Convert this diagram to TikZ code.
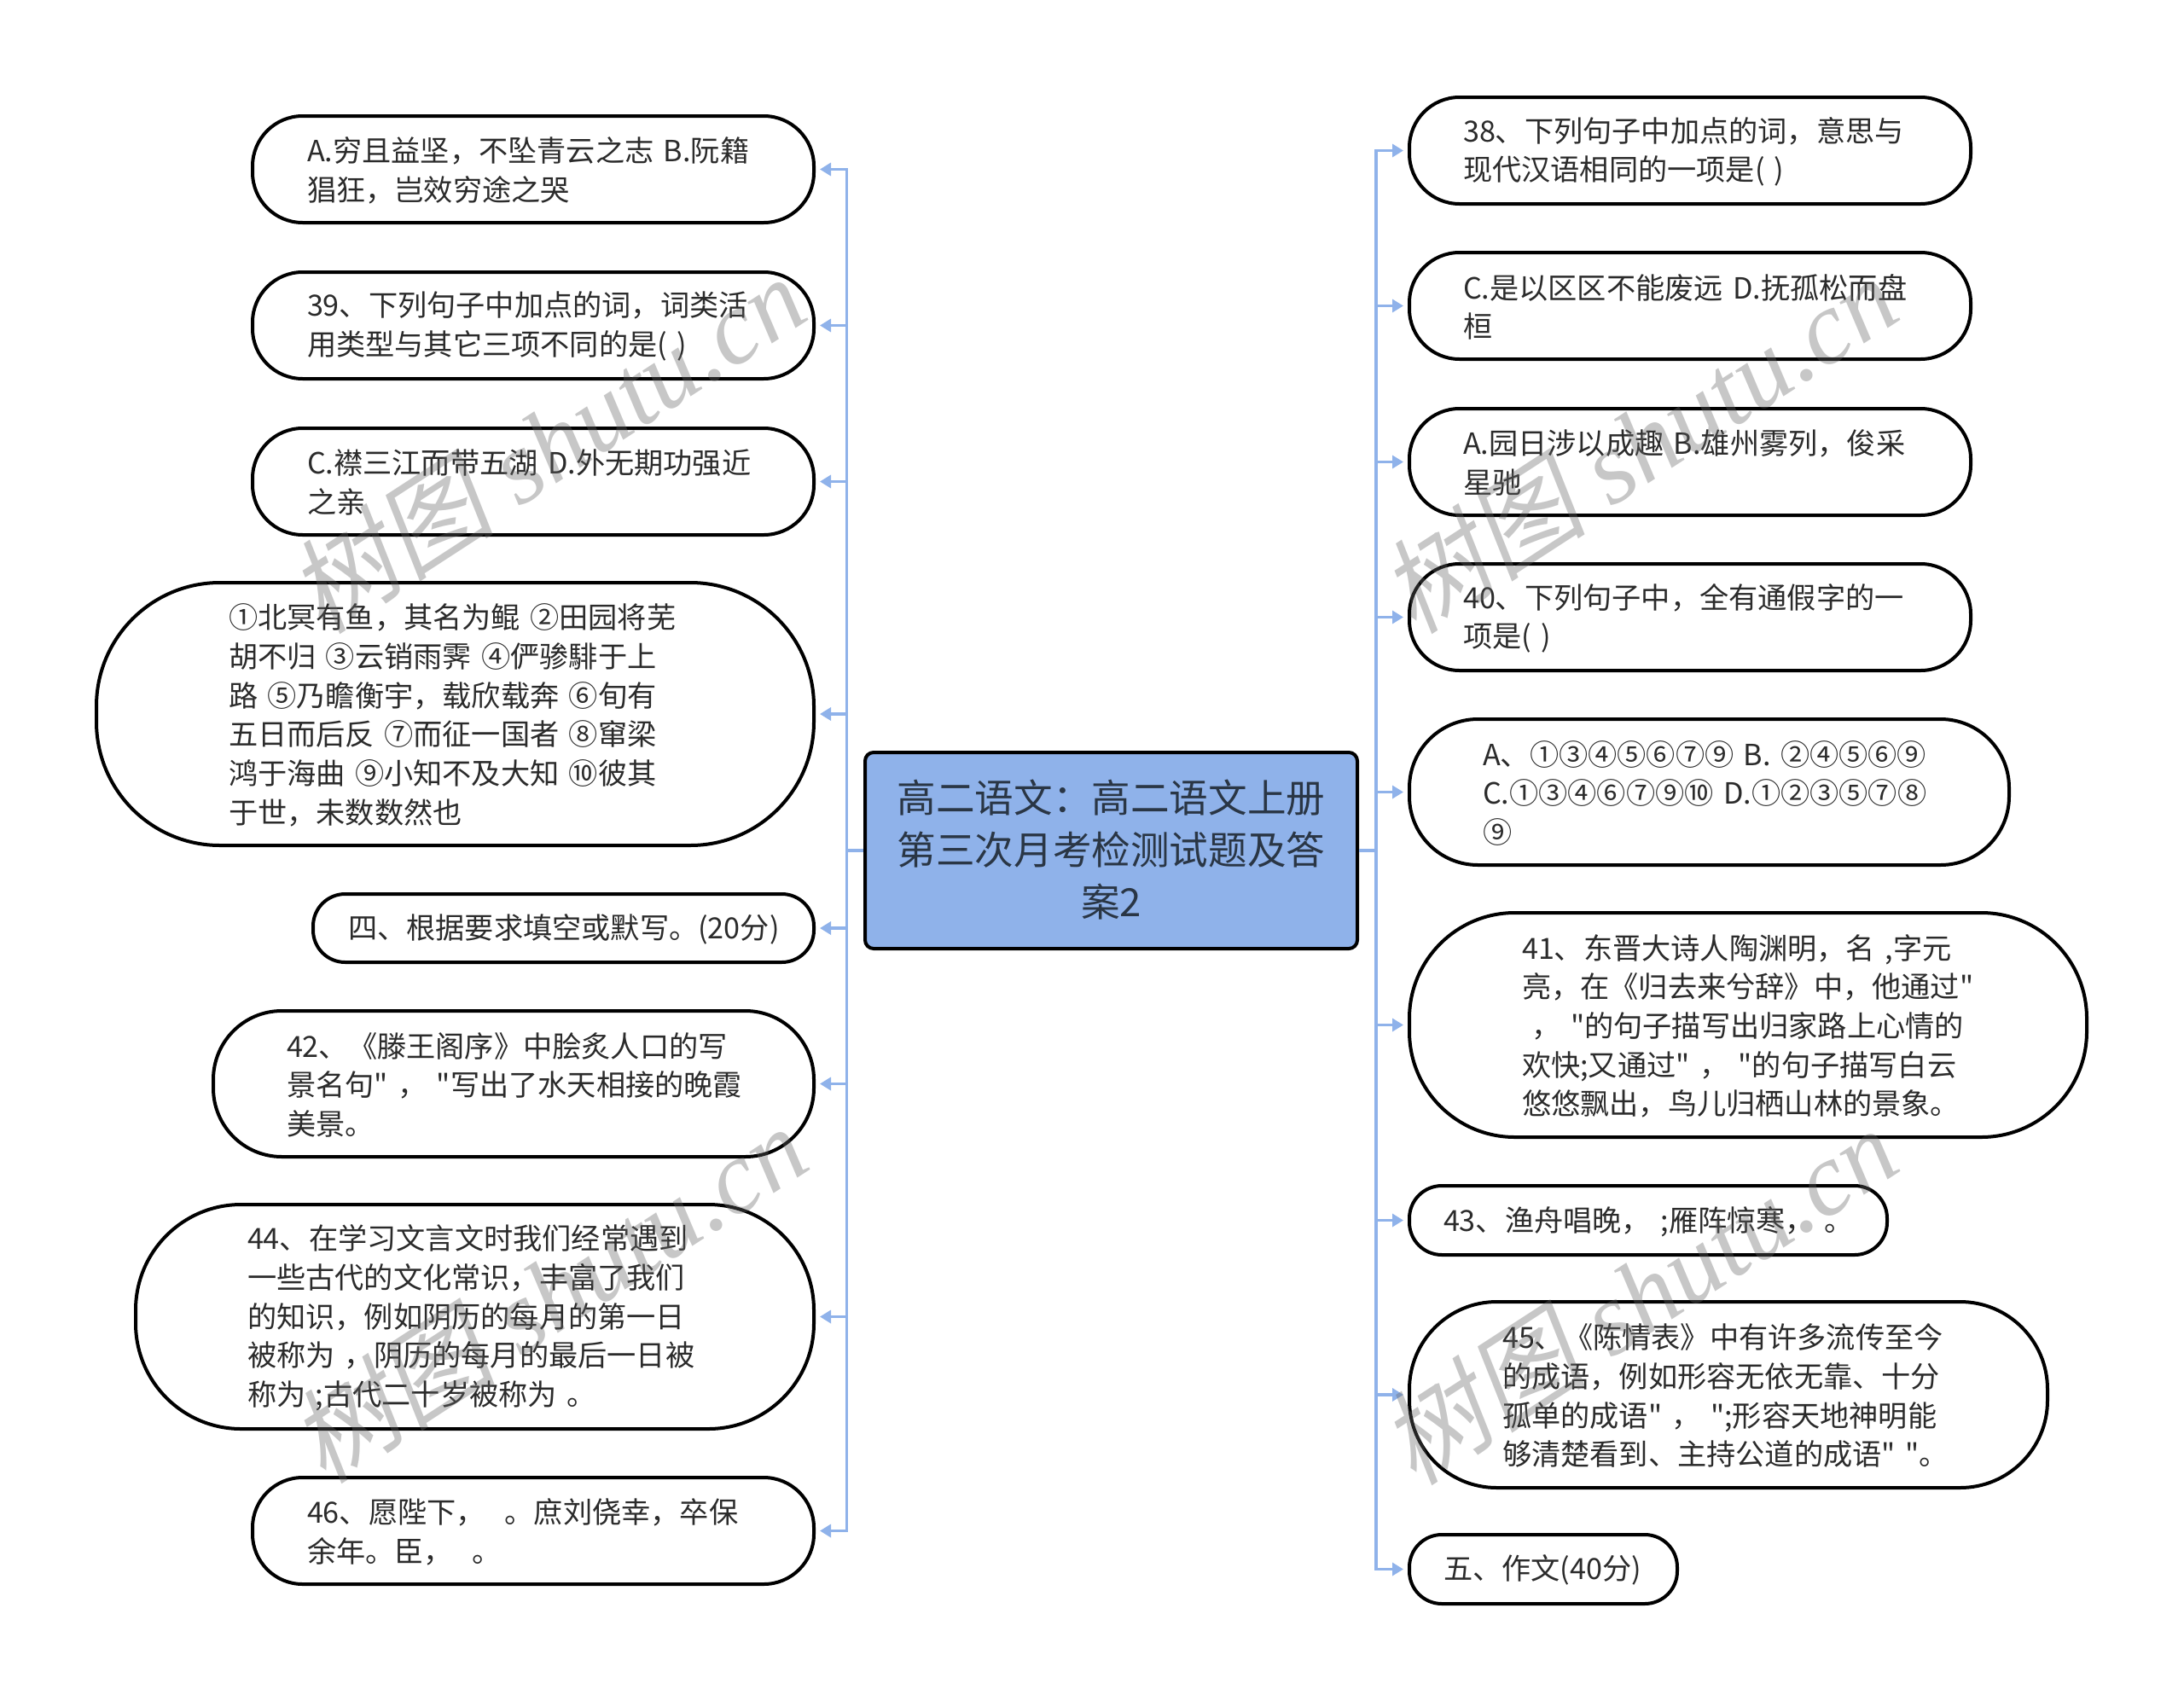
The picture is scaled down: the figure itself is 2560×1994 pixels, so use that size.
\documentclass[tikz,border=0pt]{standalone}
\usepackage{fontspec}
\newfontfamily\bodyfont{Noto Sans CJK SC}
\newfontfamily\wmcjk[FakeSlant=0.2]{Noto Sans CJK SC}
\newfontfamily\wmlatin{Liberation Serif}
\usetikzlibrary{arrows.meta}
\definecolor{linkblue}{HTML}{8FB2EA}
\definecolor{inkdark}{HTML}{2B2B2B}
\definecolor{titleink}{HTML}{2A3645}
\tikzset{
  x=1pt,y=-1pt,
  pill/.style={draw=black,line width=4pt,fill=white,text=inkdark,align=left,inner ysep=0pt,
    font=\bodyfont\fontsize{34.2}{45.7}\selectfont},
  titlebox/.style={draw=black,line width=4pt,fill=linkblue,text=titleink,align=center,rounded corners=10pt,
    font=\bodyfont\fontsize{45.6}{61}\selectfont,inner sep=0pt},
  link/.style={draw=linkblue,line width=3.6pt},
  linkarrow/.style={link,-{Triangle[length=13pt,width=15pt]},shorten >=5pt},
  wmark/.style={text=black!60,text opacity=0.36,rotate=33,inner sep=0pt}
}
\newcommand{\pillnode}[7]{%
  \pgfmathsetmacro{\pw}{#4-#2}%
  \pgfmathsetmacro{\ph}{#5-#3}%
  \pgfmathsetmacro{\pr}{0.47*\ph}%
  \pgfmathsetmacro{\pt}{\pw-2*#6}%
  \pgfmathsetmacro{\px}{(#2+#4)/2}%
  \pgfmathsetmacro{\py}{(#3+#5)/2}%
  \node[pill,minimum width=\pw pt,minimum height=\ph pt,rounded corners=\pr pt,
    text width=\pt pt,inner xsep=#6 pt] (#1) at (\px,\py) {#7\par\vspace{-2.5pt}};%
}
\newcommand{\wmtext}{{\wmcjk\fontsize{122}{122}\selectfont 树图}{\wmlatin\itshape\fontsize{122}{122}\selectfont~shutu.cn}}
\begin{document}
\begin{tikzpicture}
\useasboundingbox (0,0) rectangle (2560,1994);
\fill[white] (0,0) rectangle (2560,1994);
\node[titlebox,minimum width=577pt,minimum height=230pt] (title) at (1302.5,997)
  {高二语文：高二语文上册\\第三次月考检测试题及答\\案2\par\vspace{3pt}};
\coordinate (lt) at (992.5,997);
\coordinate (rt) at (1613,997);

\pillnode{la}{296}{136}{954}{261}{64}{A.穷且益坚，不坠青云之志~B.阮籍\\猖狂，岂效穷途之哭}
\pillnode{lb}{296}{319}{954}{444}{64}{39、下列句子中加点的词，词类活\\用类型与其它三项不同的是(~)}
\pillnode{lc}{296}{502}{954}{627}{64}{C.襟三江而带五湖~D.外无期功强近\\之亲}
\pillnode{ld}{113}{683}{954}{991}{155}{①北冥有鱼，其名为鲲~②田园将芜\\胡不归~③云销雨霁~④俨骖騑于上\\路~⑤乃瞻衡宇，载欣载奔~⑥旬有\\五日而后反~⑦而征一国者~⑧窜梁\\鸿于海曲~⑨小知不及大知~⑩彼其\\于世，未数数然也}
\pillnode{le}{367}{1048}{954}{1128}{41}{四、根据要求填空或默写。(20分)}
\pillnode{lf}{250}{1185}{954}{1356}{86}{42、《滕王阁序》中脍炙人口的写\\景名句"~，~"写出了水天相接的晚霞\\美景。}
\pillnode{lg}{159}{1412}{954}{1675}{131}{44、在学习文言文时我们经常遇到\\一些古代的文化常识，丰富了我们\\的知识，例如阴历的每月的第一日\\被称为~，阴历的每月的最后一日被\\称为~;古代二十岁被称为~。}
\pillnode{lh}{296}{1732}{954}{1857}{64}{46、愿陛下，~~。庶刘侥幸，卒保\\余年。臣，~~。}

\pillnode{ra}{1652}{114}{2310}{239}{63}{38、下列句子中加点的词，意思与\\现代汉语相同的一项是(~)}
\pillnode{rb}{1652}{296}{2310}{421}{63}{C.是以区区不能废远~D.抚孤松而盘\\桓}
\pillnode{rc}{1652}{479}{2310}{604}{63}{A.园日涉以成趣~B.雄州雾列，俊采\\星驰}
\pillnode{rd}{1652}{661}{2310}{786}{63}{40、下列句子中，全有通假字的一\\项是(~)}
\pillnode{re}{1652}{843}{2355}{1014}{86}{A、①③④⑤⑥⑦⑨~B.~②④⑤⑥⑨\\C.①③④⑥⑦⑨⑩~D.①②③⑤⑦⑧\\⑨}
\pillnode{rf}{1652}{1070}{2446}{1333}{132}{41、东晋大诗人陶渊明，名~,字元\\亮，在《归去来兮辞》中，他通过"\\~，~"的句子描写出归家路上心情的\\欢快;又通过"~，~"的句子描写白云\\悠悠飘出，鸟儿归栖山林的景象。}
\pillnode{rg}{1652}{1390}{2212}{1471}{40}{43、渔舟唱晚，~;雁阵惊寒，~。}
\pillnode{rh}{1652}{1526}{2400}{1744}{109}{45、《陈情表》中有许多流传至今\\的成语，例如形容无依无靠、十分\\孤单的成语"~，~";形容天地神明能\\够清楚看到、主持公道的成语"~"。}
\pillnode{ri}{1652}{1799}{1966}{1880}{40}{五、作文(40分)}

\draw[link] (title.west) -- (lt);
\draw[link] (title.east) -- (rt);
\foreach \n in {la,lb,lc,ld,le,lf,lg,lh}{\draw[linkarrow] (lt) |- (\n.east);}
\foreach \n in {ra,rb,rc,rd,re,rf,rg,rh,ri}{\draw[linkarrow] (rt) |- (\n.west);}

\node[wmark] (wm1) at (640,520) {\wmtext};
\node[wmark] (wm2) at (1920,520) {\wmtext};
\node[wmark] (wm3) at (642,1516) {\wmtext};
\node[wmark] (wm4) at (1920,1518) {\wmtext};
\end{tikzpicture}
\end{document}
